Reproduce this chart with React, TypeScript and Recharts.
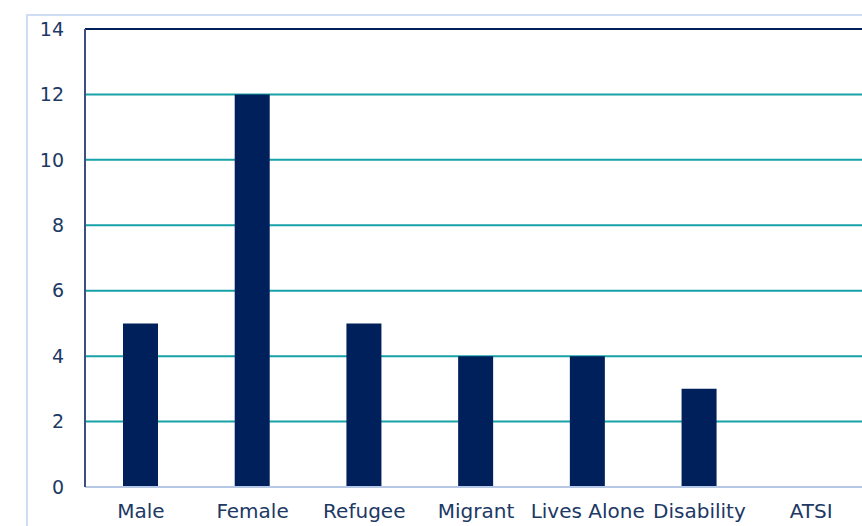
import { Bar, BarChart, CartesianGrid, ReferenceLine, XAxis, YAxis } from "recharts";

const CATEGORIES = ["Male", "Female", "Refugee", "Migrant", "Lives Alone", "Disability", "ATSI"];
const COUNTS = [5, 12, 5, 4, 4, 3, 0];
const Y_TICKS = [0, 2, 4, 6, 8, 10, 12, 14];

const NAVY = "#00205b";
const TEAL = "#17a2a8";
const TEXT = "#203864";
const FONT = "'DejaVu Sans', sans-serif";

const data = CATEGORIES.map((name, i) => ({ name, count: COUNTS[i] }));

export default function App() {
  return (
    <div style={{ position: "absolute", left: 0, top: 0, width: 862, height: 526, overflow: "hidden", background: "#fff" }}>
      {/* outer chart frame */}
      <div
        style={{
          position: "absolute",
          left: 26,
          top: 14,
          width: 900,
          height: 600,
          border: "2px solid #cfdcf5",
          boxSizing: "border-box",
        }}
      />
      <div style={{ position: "absolute", left: 0, top: 0 }}>
        <BarChart width={870} height={526} data={data} margin={{ top: 29, right: 3, left: 0, bottom: 0 }}>
          <CartesianGrid vertical={false} stroke={TEAL} strokeWidth={2} horizontalValues={[2, 4, 6, 8, 10, 12]} />
          <XAxis
            dataKey="name"
            height={39}
            tickSize={0}
            tickMargin={17}
            axisLine={{ stroke: "#b7c7e6", strokeWidth: 2 }}
            tick={{ fill: TEXT, fontSize: 20, fontFamily: FONT }}
            interval={0}
          />
          <YAxis
            width={85}
            domain={[0, 14]}
            ticks={Y_TICKS}
            tickSize={0}
            tickMargin={21}
            axisLine={{ stroke: "#3b4f80", strokeWidth: 2 }}
            tick={{ fill: TEXT, fontSize: 19, fontFamily: FONT }}
          />
          <ReferenceLine y={14} stroke={NAVY} strokeWidth={2} />
          <Bar dataKey="count" fill={NAVY} barSize={35} isAnimationActive={false} />
        </BarChart>
      </div>
    </div>
  );
}
